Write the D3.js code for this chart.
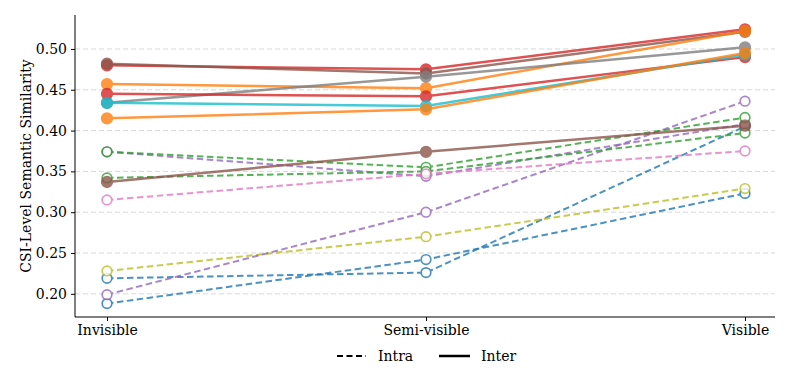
<!DOCTYPE html>
<html>
<head>
<meta charset="utf-8">
<script src="https://cdn.jsdelivr.net/npm/d3@7"></script>
<style>
  body { margin: 0; background: #fff; }
  text { font-family: "DejaVu Serif", serif; }
</style>
</head>
<body>
<div id="chart"></div>
<script>
var categories = ['Invisible', 'Semi-visible', 'Visible'];
var yTicks = [0.20, 0.25, 0.30, 0.35, 0.40, 0.45, 0.50];

// Intra (dashed, open markers)
var intraNames = ['blueA', 'blueB', 'olive', 'purpleA', 'purpleB', 'greenA', 'greenB', 'pink'];
var intraColors = ['#1f77b4', '#1f77b4', '#bcbd22', '#9467bd', '#9467bd', '#2ca02c', '#2ca02c', '#e377c2'];
var intraValues = [
  [0.188, 0.242, 0.323],
  [0.219, 0.226, 0.405],
  [0.228, 0.270, 0.329],
  [0.199, 0.300, 0.436],
  [0.374, 0.344, 0.408],
  [0.374, 0.355, 0.416],
  [0.342, 0.350, 0.397],
  [0.315, 0.347, 0.375]
];

// Inter (solid, filled markers)
var interNames = ['redA', 'brownA', 'orangeA', 'gray', 'redB', 'cyan', 'orangeB', 'brownB'];
var interColors = ['#d62728', '#8c564b', '#ff7f0e', '#7f7f7f', '#d62728', '#17becf', '#ff7f0e', '#8c564b'];
var interValues = [
  [0.480, 0.475, 0.524],
  [0.482, 0.470, 0.521],
  [0.457, 0.452, 0.522],
  [0.434, 0.466, 0.502],
  [0.445, 0.442, 0.490],
  [0.434, 0.430, 0.493],
  [0.415, 0.426, 0.495],
  [0.337, 0.374, 0.406]
];

var width = 792;
var height = 386;
// note: 'top' is reserved on window, so use plot* names
var plotLeft = 75, plotRight = 775, plotTop = 15, plotBottom = 317;
var fontSize = '14px';

var svg = d3.select('#chart')
  .append('svg')
  .attr('width', width)
  .attr('height', height);

var x = d3.scalePoint()
  .domain(categories)
  .range([107, 745]);

var y = d3.scaleLinear()
  .domain([0.1716, 0.5416])
  .range([plotBottom, plotTop]);

// grid
svg.append('g')
  .selectAll('line')
  .data(yTicks)
  .join('line')
  .attr('x1', plotLeft)
  .attr('x2', plotRight)
  .attr('y1', (d) => y(d))
  .attr('y2', (d) => y(d))
  .attr('stroke', '#d4d4d4')
  .attr('stroke-width', 0.9)
  .attr('stroke-dasharray', '5,3');

var line = d3.line()
  .x((d, i) => x(categories[i]))
  .y((d) => y(d));

function drawGroup(values, colors, dashed){
  values.forEach(function(vals, k){
    var g = svg.append('g').attr('opacity', 0.8);
    g.append('path')
      .datum(vals)
      .attr('d', line)
      .attr('fill', 'none')
      .attr('stroke', colors[k])
      .attr('stroke-width', dashed ? 2 : 2.5)
      .attr('stroke-dasharray', dashed ? '6.5,3.5' : null);
    g.selectAll('circle')
      .data(vals)
      .join('circle')
      .attr('cx', (d, i) => x(categories[i]))
      .attr('cy', (d) => y(d))
      .attr('r', dashed ? 4.8 : 5.3)
      .attr('fill', dashed ? '#fff' : colors[k])
      .attr('stroke', colors[k])
      .attr('stroke-width', 1.7);
  });
}

drawGroup(intraValues, intraColors, true);
drawGroup(interValues, interColors, false);

// axes
var yAxis = d3.axisLeft(y).tickValues(yTicks).tickFormat(d3.format('.2f')).tickSize(4).tickPadding(4);
var yG = svg.append('g')
  .attr('transform', `translate(${plotLeft}, 0)`)
  .call(yAxis);
yG.select('.domain').attr('d', `M0,${plotTop}V${plotBottom}`);

var xAxis = d3.axisBottom(x).tickSize(4).tickPadding(4);
var xG = svg.append('g')
  .attr('transform', `translate(0, ${plotBottom})`)
  .call(xAxis);
xG.select('.domain').attr('d', `M${plotLeft},0H${plotRight}`);

svg.selectAll('.tick text')
  .style('font-family', '"DejaVu Serif", serif')
  .style('font-size', fontSize)
  .attr('fill', '#000');
svg.selectAll('.domain').attr('stroke', '#000').attr('stroke-width', 1);

// y label
svg.append('text')
  .attr('transform', `translate(31, ${(plotTop + plotBottom) / 2}) rotate(-90)`)
  .attr('text-anchor', 'middle')
  .style('font-size', fontSize)
  .text('CSI-Level Semantic Similarity');

// legend
var legend = svg.append('g').attr('transform', 'translate(337, 356)');
legend.append('line')
  .attr('x1', 0).attr('x2', 29).attr('y1', 0).attr('y2', 0)
  .attr('stroke', '#000').attr('stroke-width', 2)
  .attr('stroke-dasharray', '6,3.5');
legend.append('text')
  .attr('x', 41).attr('y', 5)
  .style('font-size', fontSize)
  .text('Intra');
legend.append('line')
  .attr('x1', 102).attr('x2', 133).attr('y1', 0).attr('y2', 0)
  .attr('stroke', '#000').attr('stroke-width', 2.5);
legend.append('text')
  .attr('x', 144).attr('y', 5)
  .style('font-size', fontSize)
  .text('Inter');
</script>
</body>
</html>
